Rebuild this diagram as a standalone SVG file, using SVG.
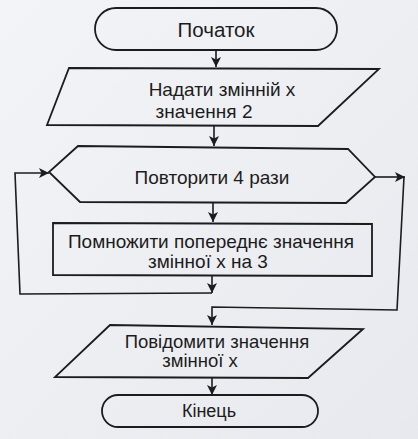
<svg xmlns="http://www.w3.org/2000/svg" width="418" height="439" viewBox="0 0 418 439">
<defs>
<marker id="ah" viewBox="0 0 10 10" refX="10" refY="5" markerWidth="10" markerHeight="10" markerUnits="userSpaceOnUse" orient="auto">
<path d="M0,0 L10,5 L0,10 L2.5,5 Z" fill="#1c1c20"/>
</marker>
<linearGradient id="bg" x1="0" y1="0" x2="1" y2="1">
<stop offset="0" stop-color="#f3f4f7"/>
<stop offset="1" stop-color="#e8e9ee"/>
</linearGradient>
</defs>
<style>
.s{fill:none;stroke:#1c1c20;stroke-width:1.8;stroke-linejoin:miter}
.c{fill:none;stroke:#1c1c20;stroke-width:1.6}
.t{font-family:"Liberation Sans",Arial,sans-serif;font-size:19px;fill:#1c1c20;text-anchor:middle}
</style>
<rect x="0" y="0" width="418" height="439" fill="url(#bg)"/>
<g id="connectors">
<line class="c" x1="216" y1="50" x2="216" y2="67" marker-end="url(#ah)"/>
<line class="c" x1="214" y1="126" x2="214" y2="146" marker-end="url(#ah)"/>
<line class="c" x1="213" y1="203" x2="213" y2="222" marker-end="url(#ah)"/>
<polyline class="c" points="212,275 212,293"  marker-end="url(#ah)"/>
<polyline class="c" points="212,293 20,294 15,173 49,173" marker-end="url(#ah)"/>
<line class="c" x1="375" y1="177" x2="405" y2="177" marker-end="url(#ah)"/>
<polyline class="c" points="404,177 397,310 212,307 212,325" marker-end="url(#ah)"/>
<line class="c" x1="212" y1="378" x2="212" y2="395" marker-end="url(#ah)"/>
</g>
<g id="start">
<rect class="s" x="95" y="8" width="242" height="42" rx="21"/>
<text class="t" x="216" y="37" style="font-size:20.5px">Початок</text>
</g>
<g id="assign">
<polygon class="s" points="69,68 379,69 318,126 47,125"/>
<text class="t" x="222" y="96">Надати змінній х</text>
<text class="t" x="204" y="118">значення 2</text>
</g>
<g id="loop">
<polygon class="s" points="78,146 348,149 375,177 346,203 80,202 49,172"/>
<text class="t" x="212" y="184">Повторити 4 рази</text>
</g>
<g id="multiply">
<polygon class="s" points="53,223 372,224 372,276 53,275"/>
<text class="t" x="211" y="248">Помножити попереднє значення</text>
<text class="t" x="208" y="268">змінної х на 3</text>
</g>
<g id="output">
<polygon class="s" points="110,325 363,329 308,378 55,377"/>
<text class="t" x="217" y="348" style="font-size:18.5px">Повідомити значення</text>
<text class="t" x="200" y="367" style="font-size:18.5px">змінної х</text>
</g>
<g id="end">
<rect class="s" x="102" y="395" width="216" height="32" rx="16"/>
<text class="t" x="209" y="417" style="font-size:18px">Кінець</text>
</g>
</svg>
